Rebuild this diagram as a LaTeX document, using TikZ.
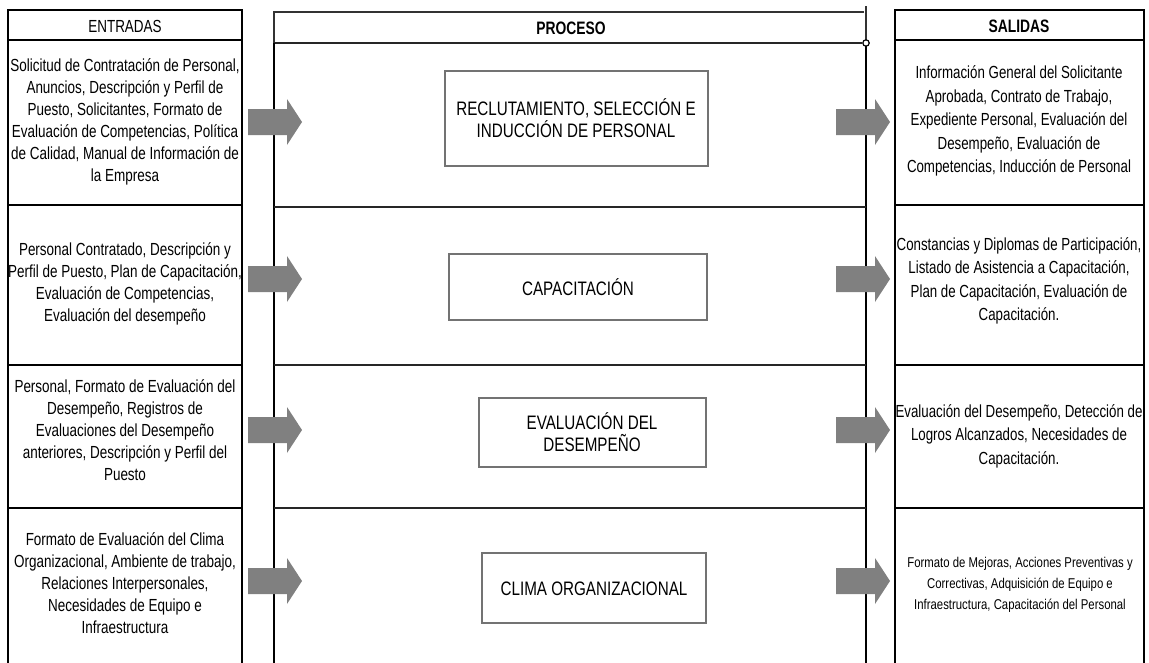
\documentclass[tikz,border=0pt]{standalone}
\usepackage{fontspec}
\setmainfont{Liberation Sans}
\newfontfamily\narrowfont[FakeStretch=0.77]{Liberation Sans}
\newfontfamily\rnarrowfont[FakeStretch=0.76]{Liberation Sans}
\newfontfamily\smallfont[FakeStretch=0.8]{Liberation Sans}
\newfontfamily\boxfont[FakeStretch=0.78]{Liberation Sans}
\begin{document}
\begin{tikzpicture}[x=1pt,y=-1pt,
  colline/.style={line width=2.6pt,black},
  procline/.style={line width=2pt,black!85},
  thinline/.style={line width=1.2pt,black!80},
  leftitem/.style={align=center,font=\narrowfont\fontsize{17.5}{22}\selectfont,inner sep=0pt},
  rightitem/.style={align=center,font=\rnarrowfont\fontsize{17.5}{23.5}\selectfont,inner sep=0pt},
  smallitem/.style={align=center,font=\smallfont\fontsize{14.2}{21}\selectfont,inner sep=0pt},
  header/.style={font=\narrowfont\fontsize{17.5}{20}\selectfont,inner sep=0pt},
  boldheader/.style={font=\narrowfont\bfseries\fontsize{18}{20}\selectfont,inner sep=0pt},
  procbox/.style={draw=black!55,line width=2.4pt,fill=white,inner sep=0pt},
  proctext/.style={align=center,font=\boxfont\fontsize{19.5}{22}\selectfont,inner sep=0pt},
  blockarrow/.pic={\fill[black!50] (0,-13) -- (39,-13) -- (39,-23) -- (54,0) -- (39,23) -- (39,13) -- (0,13) -- cycle;}
]
\useasboundingbox (0,0) rectangle (1149,662);
\fill[white] (0,0) rectangle (1149,662);

% --- ENTRADAS column ---
\draw[colline] (8,670) -- (8,10) -- (242,10) -- (242,670);
\foreach \yy in {40,205,365,508} \draw[colline] (8,\yy) -- (242,\yy);

% --- SALIDAS column ---
\draw[colline] (895,670) -- (895,10) -- (1144,10) -- (1144,670);
\foreach \yy in {40,205,365,508} \draw[colline] (895,\yy) -- (1144,\yy);

% --- PROCESO column ---
\draw[thinline] (274,43) -- (274,12) -- (864,12);
\draw[procline] (274,43) -- (862,43);
\draw[line width=2.4pt] (274,43) -- (274,670);
\draw[thinline] (866,6) -- (866,40);
\draw[line width=2.4pt] (866,46) -- (866,670);
\draw[line width=1.2pt] (866,43) circle (3.2);
\foreach \yy in {207,365,508} \draw[procline] (274,\yy) -- (866,\yy);

% --- headers ---
\node[header] (hin) at (125,26) {ENTRADAS};
\node[boldheader] (hproc) at (571,28) {PROCESO};
\node[boldheader] (hout) at (1019,26) {SALIDAS};

% --- inputs ---
\node[leftitem] (in1) at (125,122) {Solicitud de Contratación de Personal,\\Anuncios, Descripción y Perfil de\\Puesto, Solicitantes, Formato de\\Evaluación de Competencias, Política\\de Calidad, Manual de Información de\\la Empresa};
\node[leftitem] (in2) at (125,284) {Personal Contratado, Descripción y\\Perfil de Puesto, Plan de Capacitación,\\Evaluación de Competencias,\\Evaluación del desempeño};
\node[leftitem] (in3) at (125,430) {Personal, Formato de Evaluación del\\Desempeño, Registros de\\Evaluaciones del Desempeño\\anteriores, Descripción y Perfil del\\Puesto};
\node[leftitem] (in4) at (125,583) {Formato de Evaluación del Clima\\Organizacional, Ambiente de trabajo,\\Relaciones Interpersonales,\\Necesidades de Equipo e\\Infraestructura};

% --- outputs ---
\node[rightitem] (out1) at (1019,121) {Información General del Solicitante\\Aprobada, Contrato de Trabajo,\\Expediente Personal, Evaluación del\\Desempeño, Evaluación de\\Competencias, Inducción de Personal};
\node[rightitem] (out2) at (1019,281) {Constancias y Diplomas de Participación,\\Listado de Asistencia a Capacitación,\\Plan de Capacitación, Evaluación de\\Capacitación.};
\node[rightitem] (out3) at (1019,436) {Evaluación del Desempeño, Detección de\\Logros Alcanzados, Necesidades de\\Capacitación.};
\node[smallitem] (out4) at (1020,585) {Formato de Mejoras, Acciones Preventivas y\\Correctivas, Adquisición de Equipo e\\Infraestructura, Capacitación del Personal};

% --- process boxes ---
\draw[procbox] (445,71) rectangle (708,166);
\node[proctext] (p1) at (576,118) {RECLUTAMIENTO, SELECCIÓN E\\INDUCCIÓN DE PERSONAL};
\draw[procbox] (449,254) rectangle (707,320);
\node[proctext] (p2) at (578,287) {CAPACITACIÓN};
\draw[procbox] (479,398) rectangle (706,467);
\node[proctext] (p3) at (592,432) {EVALUACIÓN DEL\\DESEMPEÑO};
\draw[procbox] (482,553) rectangle (706,623);
\node[proctext] (p4) at (594,589) {CLIMA ORGANIZACIONAL};

% --- block arrows ---
\foreach \yy in {122,279,430,581} {
  \pic at (248,\yy) {blockarrow};
  \pic at (836,\yy) {blockarrow};
}
\end{tikzpicture}
\end{document}
